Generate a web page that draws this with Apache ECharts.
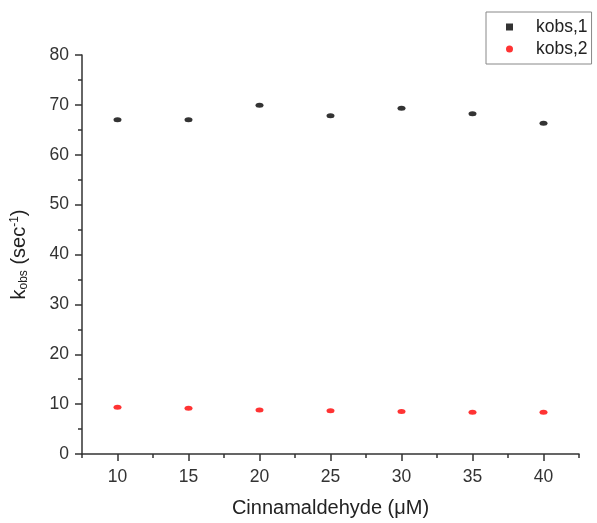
<!DOCTYPE html>
<html>
<head>
<meta charset="utf-8">
<script src="https://cdn.jsdelivr.net/npm/echarts@6/dist/echarts.min.js"></script>
<style>html,body{margin:0;padding:0;background:#fff}#c{width:597px;height:523px}</style>
</head>
<body>
<div id="c"></div>
<script>
const xValues = [10, 15, 20, 25, 30, 35, 40];
const xMinorTicks = [7.5, 12.5, 17.5, 22.5, 27.5, 32.5, 37.5, 42.5];
const kobs1 = [67.0, 67.0, 69.9, 67.8, 69.3, 68.2, 66.3];
const kobs2 = [9.35, 9.15, 8.8, 8.65, 8.5, 8.35, 8.35];
const seriesNames = ['kobs,1', 'kobs,2'];

const chart = echarts.init(document.getElementById('c'));
const font = 'Liberation Sans, Arial, sans-serif';
const axisColor = '#333';
chart.setOption({
  animation: false,
  grid: {left: 82, right: 18, top: 55, bottom: 68},
  legend: {
    orient: 'vertical',
    left: 486, top: 12,
    padding: [6, 4, 6, 20],
    itemGap: 4,
    itemWidth: 7, itemHeight: 7,
    borderColor: '#888', borderWidth: 1,
    textStyle: {fontFamily: font, fontSize: 17.5, color: '#222', padding: [0, 0, 0, 18]},
    data: [
      {name: seriesNames[0], icon: 'rect'},
      {name: seriesNames[1], icon: 'circle'}
    ]
  },
  xAxis: [{
    type: 'value', min: 7.5, max: 42.5, interval: 5,
    axisLine: {lineStyle: {color: axisColor, width: 1.5}},
    axisTick: {show: true, inside: false, length: 7, lineStyle: {color: axisColor, width: 1.5}, customValues: xValues},
    axisLabel: {fontFamily: font, fontSize: 17.5, color: '#333', margin: 14, customValues: xValues},
    splitLine: {show: false},
    name: 'Cinnamaldehyde (\u03bcM)',
    nameLocation: 'middle', nameGap: 44,
    nameTextStyle: {fontFamily: font, fontSize: 20, color: '#222'}
  }, {
    type: 'value', min: 7.5, max: 42.5, position: 'bottom',
    axisLine: {show: false},
    axisTick: {show: true, length: 4, lineStyle: {color: axisColor, width: 1.5}, customValues: xMinorTicks},
    axisLabel: {show: false},
    splitLine: {show: false}
  }],
  yAxis: {
    type: 'value', min: 0, max: 80, interval: 10,
    axisLine: {show: true, lineStyle: {color: axisColor, width: 1.5}},
    axisTick: {show: true, length: 7, lineStyle: {color: axisColor, width: 1.5}},
    minorTick: {show: true, splitNumber: 2, length: 4, lineStyle: {color: axisColor, width: 1.5}},
    axisLabel: {fontFamily: font, fontSize: 17.5, color: '#333', margin: 13},
    splitLine: {show: false},
    name: 'k{sub|obs} (sec{sup|-1})',
    nameLocation: 'middle', nameGap: 52,
    nameTextStyle: {
      fontFamily: font, fontSize: 20, color: '#222',
      rich: {
        sub: {fontFamily: font, fontSize: 12, color: '#222', verticalAlign: 'bottom', padding: [9, 0, 0, 0]},
        sup: {fontFamily: font, fontSize: 12, color: '#222', verticalAlign: 'top', padding: [0, 0, 9, 0]}
      }
    }
  },
  series: [
    {name: seriesNames[0], type: 'scatter', symbol: 'circle', symbolSize: [8, 5],
     itemStyle: {color: '#000'}, data: xValues.map((x, i) => [x, kobs1[i]])},
    {name: seriesNames[1], type: 'scatter', symbol: 'circle', symbolSize: [8, 5],
     itemStyle: {color: '#ff0000'}, data: xValues.map((x, i) => [x, kobs2[i]])}
  ]
});
</script>
</body>
</html>
